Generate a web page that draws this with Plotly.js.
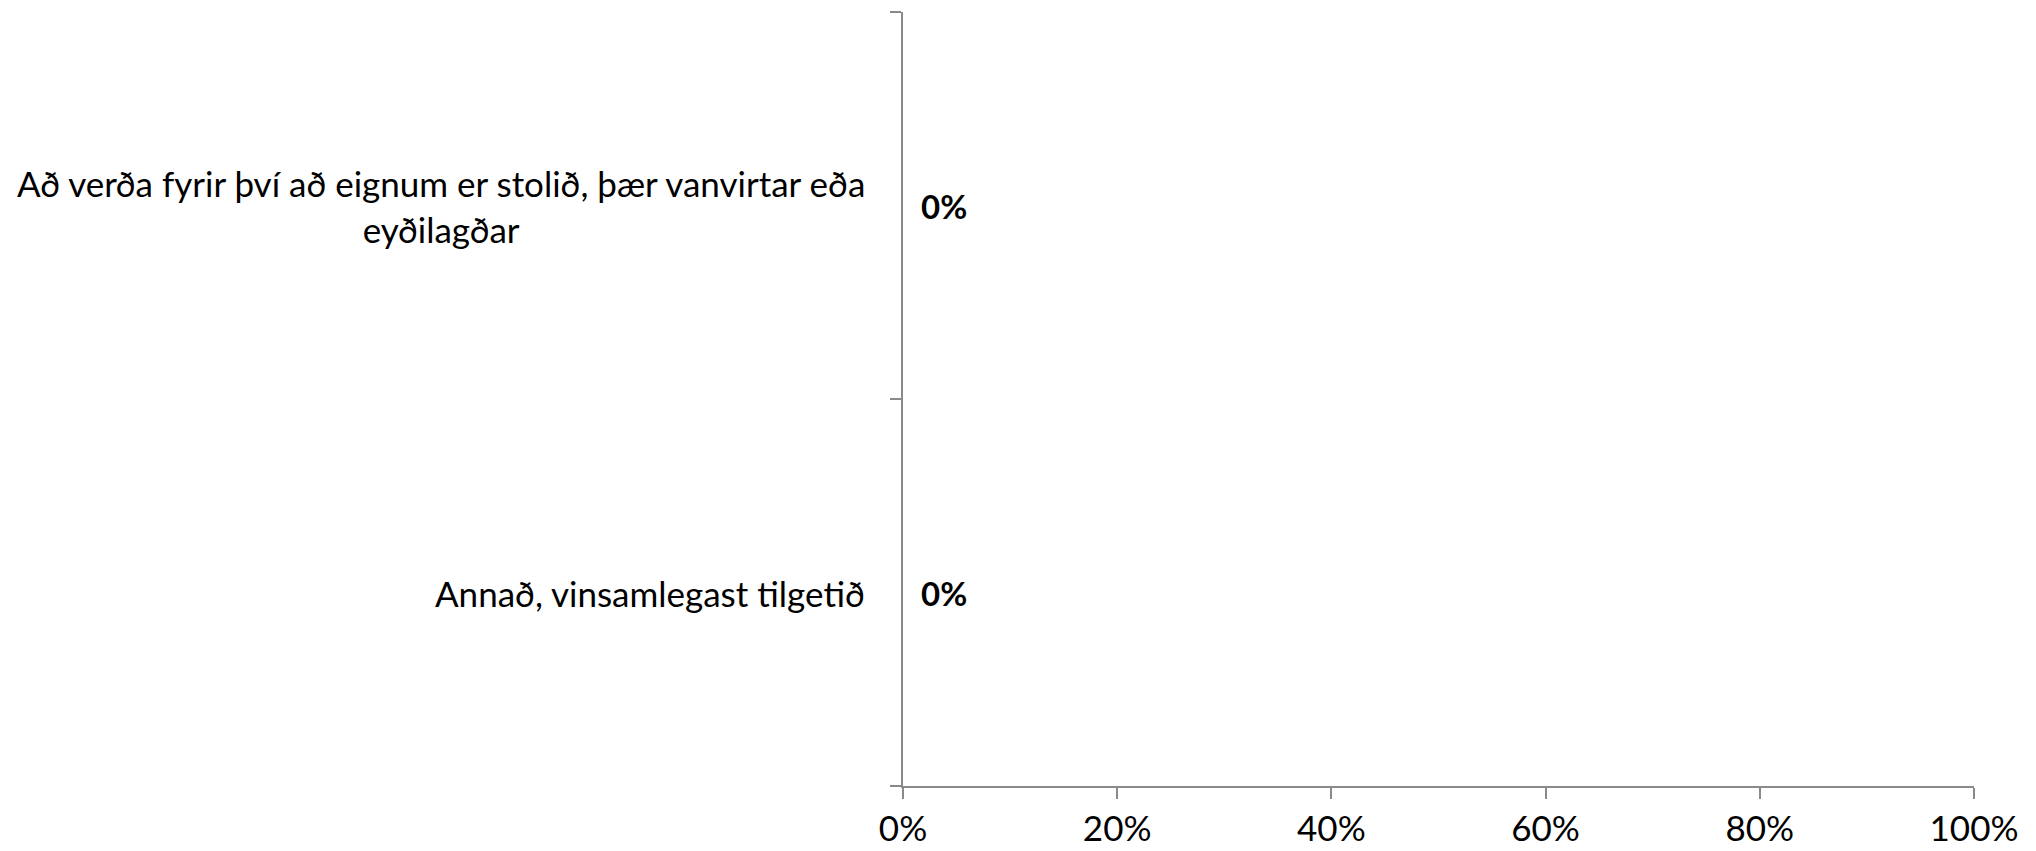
<!DOCTYPE html>
<html>
<head>
<meta charset="utf-8">
<script src="https://cdn.plot.ly/plotly-3.0.1.min.js"></script>
<style>html,body{margin:0;padding:0;background:#fff;}#chart{width:2036px;height:851px;}</style>
</head>
<body>
<div id="chart"></div>
<script>
// Data
const categories = [
  "Annað, vinsamlegast tilgetið",
  "Að verða fyrir því að eignum er stolið, þær vanvirtar eða<br>eyðilagðar"
];
const values = [0, 0];
const xTickValues = [0, 0.2, 0.4, 0.6, 0.8, 1.0];
const xTickLabels = ["0%", "20%", "40%", "60%", "80%", "100%"];

const FONT = "Lato, 'Open Sans', sans-serif";
const AXIS_COLOR = "#8a8a8a";
const FS = 35;

const trace = {
  type: "bar",
  orientation: "h",
  x: values,
  y: categories,
  marker: { color: "#4f81bd" },
  hoverinfo: "skip",
  showlegend: false
};

const catAnnotations = categories.map((c) => ({
  xref: "paper", yref: "y",
  x: 0, y: c,
  xanchor: "right", yanchor: "middle",
  xshift: -36,
  align: "center",
  text: c,
  showarrow: false,
  font: { family: FONT, size: FS, color: "#000" }
}));

const valueAnnotations = categories.map((c, i) => ({
  xref: "x", yref: "y",
  x: values[i], y: c,
  xanchor: "left", yanchor: "middle",
  xshift: 16,
  text: "<b>" + Math.round(values[i] * 100) + "%</b>",
  showarrow: false,
  font: { family: FONT, size: 33, color: "#000" }
}));

const layout = {
  width: 2036,
  height: 851,
  margin: { l: 903, r: 62, t: 11.5, b: 65, pad: 0 },
  paper_bgcolor: "#fff",
  plot_bgcolor: "#fff",
  font: { family: FONT, size: FS, color: "#000" },
  bargap: 0.5,
  xaxis: {
    range: [0, 1],
    tickvals: xTickValues,
    ticktext: xTickLabels,
    showgrid: false,
    zeroline: false,
    showline: true,
    linecolor: AXIS_COLOR,
    linewidth: 2,
    ticks: "outside",
    ticklen: 11,
    tickwidth: 2,
    tickcolor: AXIS_COLOR,
    tickfont: { family: FONT, size: FS, color: "#000" },
    ticklabelstandoff: 0,
    fixedrange: true
  },
  yaxis: {
    type: "category",
    categoryorder: "array",
    categoryarray: categories,
    showgrid: false,
    zeroline: false,
    showline: true,
    linecolor: AXIS_COLOR,
    linewidth: 2,
    ticks: "outside",
    tickson: "boundaries",
    ticklen: 11,
    tickwidth: 2,
    tickcolor: AXIS_COLOR,
    showticklabels: false,
    fixedrange: true
  },
  annotations: catAnnotations.concat(valueAnnotations)
};

Plotly.newPlot("chart", [trace], layout, { displayModeBar: false, staticPlot: true });
</script>
</body>
</html>
